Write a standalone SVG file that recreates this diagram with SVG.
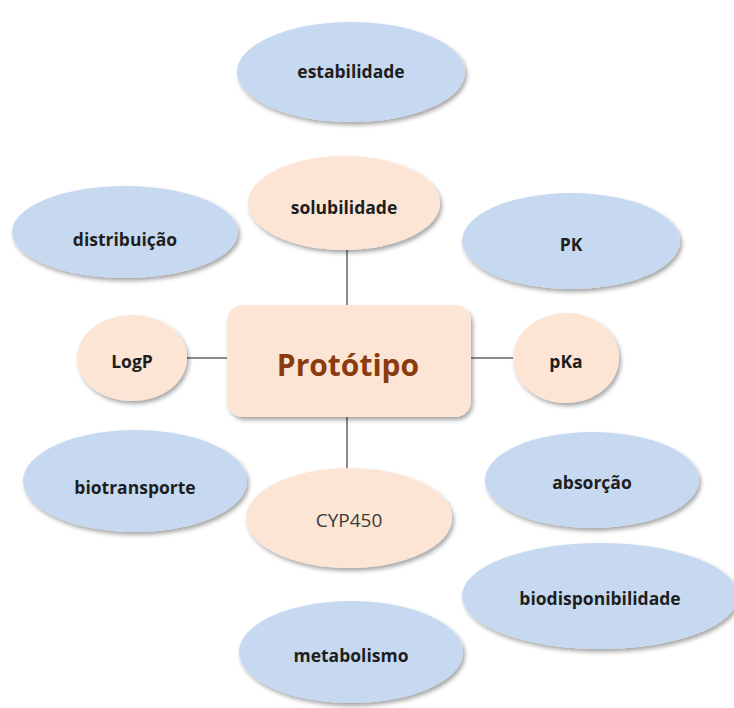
<svg xmlns="http://www.w3.org/2000/svg" width="734" height="708" viewBox="0 0 734 708">
<defs>
<filter id="sh" x="-10%" y="-10%" width="125%" height="130%">
<feDropShadow dx="2" dy="3" stdDeviation="2" flood-color="#000" flood-opacity="0.35"/>
</filter>
<style>
.blue{fill:#c6d9f0;filter:url(#sh)}
.peach{fill:#fde5d5;filter:url(#sh)}
.t{font-family:"Open Sans","Noto Sans",sans-serif;font-weight:bold;font-size:17.5px;fill:#1e1e1e;text-anchor:middle;dominant-baseline:central}
.conn line{stroke:#8c8c8c;stroke-width:2}
</style>
</defs>
<rect width="734" height="708" fill="#fff"/>
<g class="conn">
<line x1="347" y1="250" x2="347" y2="306"/>
<line x1="347" y1="417" x2="347" y2="468"/>
<line x1="186" y1="358" x2="228" y2="358"/>
<line x1="470" y1="358" x2="514" y2="358"/>
</g>
<g id="estabilidade"><ellipse class="blue" cx="351" cy="72" rx="114" ry="50"/><text class="t" x="351" y="71">estabilidade</text></g>
<g id="solubilidade"><ellipse class="peach" cx="344" cy="203" rx="96" ry="47"/><text class="t" x="344" y="207">solubilidade</text></g>
<g id="distribuicao"><ellipse class="blue" cx="125" cy="232" rx="113" ry="46"/><text class="t" x="125" y="239">distribuição</text></g>
<g id="PK"><ellipse class="blue" cx="571" cy="241" rx="109" ry="48"/><text class="t" x="571" y="244">PK</text></g>
<g id="prototipo"><rect class="peach" x="227" y="305" width="244" height="112" rx="16"/><text x="348" y="364" font-family="'Open Sans','Noto Sans',sans-serif" font-weight="bold" font-size="30" fill="#8a3c0f" text-anchor="middle" dominant-baseline="central">Protótipo</text></g>
<g id="LogP"><ellipse class="peach" cx="132" cy="358" rx="55" ry="43"/><text class="t" x="132" y="361">LogP</text></g>
<g id="pKa"><ellipse class="peach" cx="566" cy="358" rx="53" ry="45"/><text class="t" x="566" y="361">pKa</text></g>
<g id="biotransporte"><ellipse class="blue" cx="135" cy="481" rx="112" ry="51"/><text class="t" x="135" y="487">biotransporte</text></g>
<g id="CYP450"><ellipse class="peach" cx="349" cy="518" rx="103" ry="50"/><text x="349" y="520" font-family="'Open Sans','Noto Sans',sans-serif" font-size="19" fill="#3a3a3a" text-anchor="middle" dominant-baseline="central">CYP450</text></g>
<g id="absorcao"><ellipse class="blue" cx="592" cy="480" rx="107" ry="48"/><text class="t" x="592" y="482">absorção</text></g>
<g id="biodisponibilidade"><ellipse class="blue" cx="600" cy="596" rx="138" ry="53"/><text class="t" x="600" y="598">biodisponibilidade</text></g>
<g id="metabolismo"><ellipse class="blue" cx="351" cy="652" rx="112" ry="51"/><text class="t" x="351" y="655">metabolismo</text></g>
</svg>
